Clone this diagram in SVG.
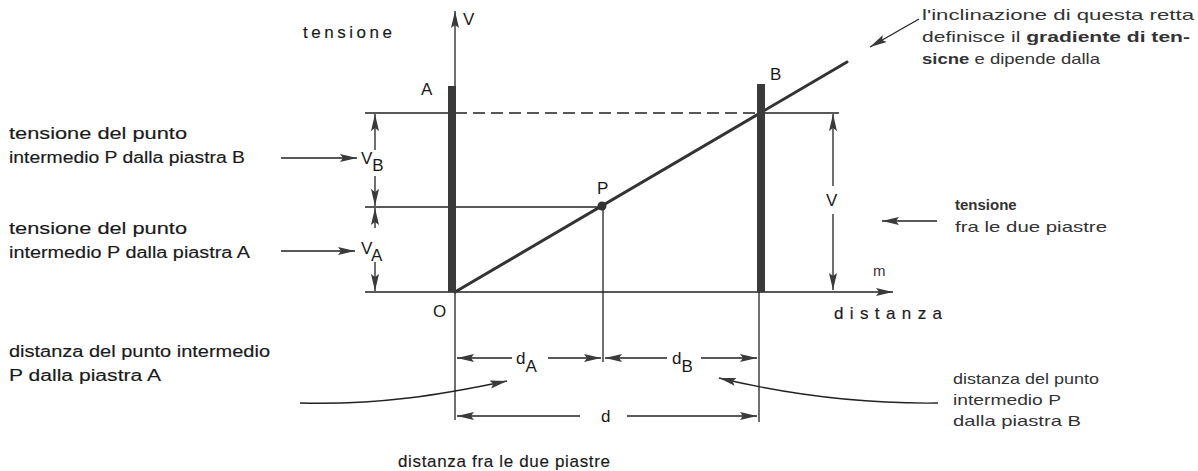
<svg xmlns="http://www.w3.org/2000/svg" width="1198" height="471" viewBox="0 0 1198 471">
<style>
.t{font-family:"Liberation Sans",Arial,sans-serif;fill:#1a1a1a}
.m{font-size:16px;stroke:#1a1a1a;stroke-width:0.15}
.w{font-size:17px}
.l{font-size:15px;fill:#333}
.b{font-weight:bold}
.s{font-size:17px}
.ln{stroke:#222;stroke-width:1.3;fill:none}
.ar{stroke:#222;stroke-width:1.3;fill:none;marker-end:url(#ah)}
.plate{fill:#3a3a3a}
</style>
<defs>
<marker id="ah" markerUnits="userSpaceOnUse" markerWidth="18" markerHeight="10" refX="17" refY="5" orient="auto">
<path d="M0,1 L17,5 L0,9 L3,5 z" fill="#3a3a3a"/>
</marker>
</defs>

<g id="connectors">
<!-- axes -->
<line class="ar" x1="455" y1="420" x2="455" y2="11"/>
<line class="ar" x1="365" y1="292" x2="893" y2="292"/>
<!-- reference lines -->
<line class="ln" x1="365" y1="113" x2="455" y2="113"/>
<line class="ln" x1="455" y1="113" x2="757" y2="113" stroke-dasharray="12,6"/>
<line class="ln" x1="765" y1="113" x2="839" y2="113"/>
<line class="ln" x1="365" y1="207" x2="603" y2="207"/>
<line class="ln" x1="603" y1="207" x2="603" y2="362"/>
<line class="ln" x1="759" y1="292" x2="759" y2="422"/>
<!-- slope line -->
<line x1="455" y1="292" x2="847" y2="62" stroke="#333" stroke-width="3" stroke-linecap="round"/>
<!-- VB / VA dims -->
<line class="ar" x1="375" y1="150" x2="375" y2="114"/>
<line class="ar" x1="375" y1="176" x2="375" y2="206"/>
<line class="ar" x1="375" y1="228" x2="375" y2="208"/>
<line class="ar" x1="375" y1="262" x2="375" y2="291"/>
<!-- V dim -->
<line class="ar" x1="833" y1="186" x2="833" y2="114"/>
<line class="ar" x1="833" y1="214" x2="833" y2="290"/>
<!-- pointer arrows left -->
<line class="ar" x1="281" y1="158" x2="357" y2="158"/>
<line class="ar" x1="281" y1="251" x2="355" y2="251"/>
<!-- pointer arrow right (tensione) -->
<line class="ar" x1="937" y1="221" x2="882" y2="221"/>
<!-- pointer arrow top right -->
<line class="ar" x1="919" y1="19" x2="870" y2="47"/>
<!-- dA, dB, d -->
<line class="ar" x1="512" y1="358" x2="457" y2="358"/>
<line class="ar" x1="548" y1="358" x2="601" y2="358"/>
<line class="ar" x1="667" y1="358" x2="605" y2="358"/>
<line class="ar" x1="701" y1="358" x2="757" y2="358"/>
<line class="ar" x1="580" y1="416" x2="457" y2="416"/>
<line class="ar" x1="627" y1="416" x2="757" y2="416"/>
<!-- curved pointers -->
<path class="ar" d="M300,403 C380,405 440,395 507,381"/>
<path class="ar" d="M938,403 C860,404 790,395 719,378"/>
</g>

<g id="plateA"><rect class="plate" x="448" y="86" width="8" height="206"/><text class="t s" x="421" y="95">A</text></g>
<g id="plateB"><rect class="plate" x="757" y="84" width="8" height="208"/><text class="t s" x="770" y="80">B</text></g>
<g id="pointP"><circle cx="602" cy="206" r="4.5" fill="#333"/><text class="t s" x="597" y="194">P</text></g>
<g id="origin"><text class="t s" x="433" y="317">O</text></g>

<g id="axis-labels">
<text class="t m w" x="303" y="38" textLength="89" lengthAdjust="spacing">tensione</text>
<text class="t s" x="463" y="25">V</text>
<text class="t l" x="873" y="276" font-size="17">m</text>
<text class="t m w" x="834" y="319" textLength="108" lengthAdjust="spacing">distanza</text>
</g>

<g id="dim-labels">
<text class="t s" x="361" y="164">V<tspan dy="7">B</tspan></text>
<text class="t s" x="361" y="254">V<tspan dy="7">A</tspan></text>
<text class="t s" x="826" y="206">V</text>
<text class="t s" x="516" y="364">d<tspan dy="8">A</tspan></text>
<text class="t s" x="672" y="364">d<tspan dy="8">B</tspan></text>
<text class="t s" x="601" y="422">d</text>
</g>

<g id="label-VB">
<text class="t m" x="9" y="139" textLength="178" lengthAdjust="spacingAndGlyphs">tensione del punto</text>
<text class="t m" x="9" y="163" textLength="236" lengthAdjust="spacingAndGlyphs">intermedio P dalla piastra B</text>
</g>
<g id="label-VA">
<text class="t m" x="9" y="234" textLength="178" lengthAdjust="spacingAndGlyphs">tensione del punto</text>
<text class="t m" x="9" y="258" textLength="241" lengthAdjust="spacingAndGlyphs">intermedio P dalla piastra A</text>
</g>
<g id="label-dA">
<text class="t m" x="9" y="357" textLength="261" lengthAdjust="spacingAndGlyphs">distanza del punto intermedio</text>
<text class="t m" x="9" y="381" textLength="152" lengthAdjust="spacingAndGlyphs">P dalla piastra A</text>
</g>
<g id="label-dB">
<text class="t l" x="953" y="384" textLength="146" lengthAdjust="spacingAndGlyphs">distanza del punto</text>
<text class="t l" x="953" y="405" textLength="108" lengthAdjust="spacingAndGlyphs">intermedio P</text>
<text class="t l" x="953" y="426" textLength="128" lengthAdjust="spacingAndGlyphs">dalla piastra B</text>
</g>
<g id="label-V">
<text class="t l b" x="955" y="210">tensione</text>
<text class="t l" x="955" y="232" textLength="152" lengthAdjust="spacingAndGlyphs">fra le due piastre</text>
</g>
<g id="label-slope">
<text class="t l" x="922" y="20" textLength="272" lengthAdjust="spacingAndGlyphs">l'inclinazione di questa retta</text>
<text class="t l" x="922" y="42" textLength="268" lengthAdjust="spacingAndGlyphs">definisce il <tspan class="b">gradiente di ten-</tspan></text>
<text class="t l" x="922" y="64" textLength="178" lengthAdjust="spacingAndGlyphs"><tspan class="b">sicne</tspan> e dipende dalla</text>
</g>
<g id="label-d">
<text class="t m w" x="398" y="467" textLength="212" lengthAdjust="spacing">distanza fra le due piastre</text>
</g>
</svg>
